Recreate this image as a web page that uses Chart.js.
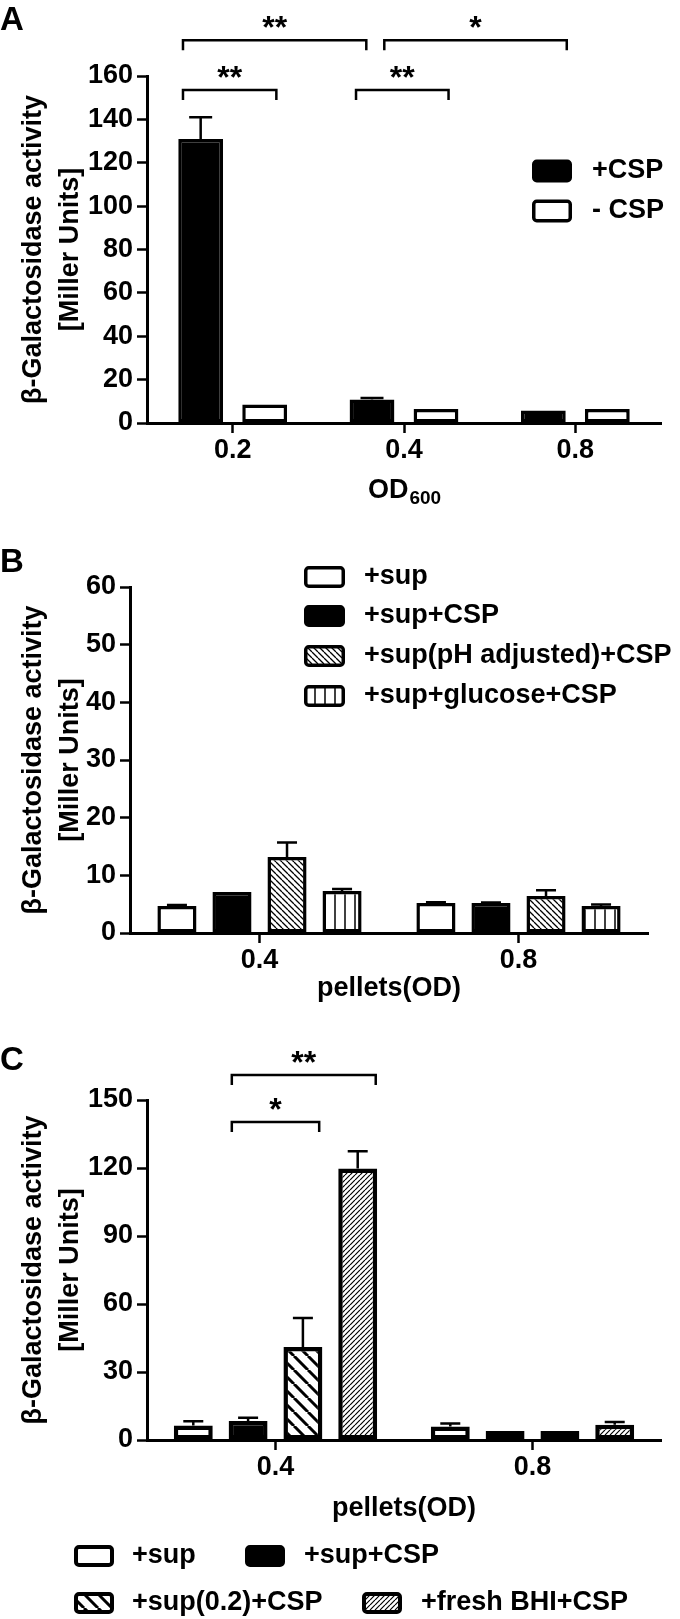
<!DOCTYPE html>
<html>
<head>
<meta charset="utf-8">
<script src="https://cdn.jsdelivr.net/npm/chart.js@4/dist/chart.umd.min.js"></script>
<style>
body { margin: 0; background: #fff; width: 680px; height: 1619px; position: relative; overflow: hidden; }
canvas { position: absolute; left: 0; }
</style>
</head>
<body>
<canvas id="chartA" width="680" height="520" style="top:0px"></canvas>
<canvas id="chartB" width="680" height="500" style="top:520px"></canvas>
<canvas id="chartC" width="680" height="599" style="top:1020px"></canvas>
<script>
// panel A
var catsA = ['0.2', '0.4', '0.8'];
var plusCspA = [131, 10.8, 5.8];
var plusCspErrA = [10, 0.7, 0];
var minusCspA = [8.5, 6.5, 6.5];
var minusCspErrA = [0, 0, 0];
var ticksA = [0, 20, 40, 60, 80, 100, 120, 140, 160];
// brackets: from/to in category units, y in Miller units
var sigA = [
    {from: -0.29, to: 0.78, y: 176.5, text: '**'},
    {from: 0.885, to: 1.95, y: 176.5, text: '*'},
    {from: -0.29, to: 0.255, y: 153.5, text: '**'},
    {from: 0.72, to: 1.26, y: 153.5, text: '**'}
];

// panel B
var catsB = ['0.4', '0.8'];
var supB = [4.7, 5.2];
var supErrB = [0.15, 0.15];
var supCspB = [7.1, 5.2];
var supCspErrB = [0, 0.1];
var supPhB = [13.2, 6.4];
var supPhErrB = [2.5, 1.0];
var supGluB = [7.3, 4.7];
var supGluErrB = [0.35, 0.25];
var ticksB = [0, 10, 20, 30, 40, 50, 60];

// panel C
var catsC = ['0.4', '0.8'];
var supC = [6.4, 6.0];
var supErrC = [1.9, 1.3];
var supCspC = [8.4, 4.0];
var supCspErrC = [1.4, 0];
var sup02C = [41, 4.0];
var sup02ErrC = [12.8, 0];
var freshC = [119.8, 6.7];
var freshErrC = [7.6, 1.2];
var ticksC = [0, 30, 60, 90, 120, 150];
var sigC = [
    {from: -0.17, to: 0.39, y: 161, text: '**'},
    {from: -0.17, to: 0.17, y: 140.3, text: '*'}
];

var FONT = "'Liberation Sans', Arial, sans-serif";
Chart.defaults.font.family = FONT;
Chart.defaults.font.size = 27;
Chart.defaults.font.weight = 'bold';
Chart.defaults.color = '#000';

function hatch(kind, gap, lw) {
    var c = document.createElement('canvas');
    c.width = gap; c.height = gap;
    var g = c.getContext('2d');
    g.fillStyle = '#fff';
    g.fillRect(0, 0, gap, gap);
    g.strokeStyle = '#000';
    g.lineWidth = lw;
    g.beginPath();
    if (kind === 'v') {
        g.moveTo(gap / 2, 0); g.lineTo(gap / 2, gap);
    } else {
        for (var k = -gap; k <= gap; k += gap) {
            if (kind === 'back') { g.moveTo(k, 0); g.lineTo(k + gap, gap); }
            else { g.moveTo(k, gap); g.lineTo(k + gap, 0); }
        }
    }
    g.stroke();
    return g.createPattern(c, 'repeat');
}

var errorBars = {
    id: 'errorBars',
    afterDatasetsDraw: function(chart, args, opts) {
        var ctx = chart.ctx, y = chart.scales.y;
        chart.data.datasets.forEach(function(ds, di) {
            if (!ds.errors) return;
            chart.getDatasetMeta(di).data.forEach(function(bar, i) {
                var e = ds.errors[i];
                if (!e) return;
                var top = y.getPixelForValue(ds.data[i] + e);
                ctx.save();
                ctx.strokeStyle = '#000';
                ctx.lineWidth = opts.width;
                ctx.beginPath();
                ctx.moveTo(bar.x, bar.y);
                ctx.lineTo(bar.x, top);
                ctx.moveTo(bar.x - opts.cap / 2, top);
                ctx.lineTo(bar.x + opts.cap / 2, top);
                ctx.stroke();
                ctx.restore();
            });
        });
    }
};

function sigPlugin(list) {
    return {
        id: 'sig',
        afterDraw: function(chart) {
            var ctx = chart.ctx, xs = chart.scales.x, ys = chart.scales.y;
            var x0 = xs.getPixelForValue(0), step = xs.getPixelForValue(1) - x0;
            ctx.save();
            ctx.strokeStyle = '#000';
            ctx.lineWidth = 2.5;
            ctx.fillStyle = '#000';
            ctx.font = 'bold 32px ' + FONT;
            ctx.textAlign = 'center';
            ctx.textBaseline = 'alphabetic';
            list.forEach(function(b) {
                var xa = x0 + b.from * step, xb = x0 + b.to * step, yy = ys.getPixelForValue(b.y);
                ctx.beginPath();
                ctx.moveTo(xa, yy + 10); ctx.lineTo(xa, yy); ctx.lineTo(xb, yy); ctx.lineTo(xb, yy + 10);
                ctx.stroke();
                ctx.fillText(b.text, (xa + xb) / 2, yy - 2);
            });
            ctx.restore();
        }
    };
}

function legendPlugin(items, box) {
    return {
        id: 'boxLegend',
        afterDraw: function(chart) {
            var ctx = chart.ctx;
            items.forEach(function(it) {
                var ds = chart.data.datasets[it.ds];
                ctx.save();
                ctx.beginPath();
                ctx.roundRect(it.x + box.lw / 2, it.y - box.h / 2 + box.lw / 2, box.w - box.lw, box.h - box.lw, 3);
                ctx.fillStyle = ds.backgroundColor;
                ctx.fill();
                ctx.lineWidth = box.lw;
                ctx.strokeStyle = '#000';
                ctx.stroke();
                ctx.fillStyle = '#000';
                ctx.font = 'bold 27px ' + FONT;
                ctx.textAlign = 'left';
                ctx.textBaseline = 'middle';
                ctx.fillText(ds.label, it.tx, it.y);
                ctx.restore();
            });
        }
    };
}

function letterPlugin(letter, baseline) {
    return {
        id: 'letter',
        afterDraw: function(chart) {
            var ctx = chart.ctx;
            ctx.save();
            ctx.fillStyle = '#000';
            ctx.font = 'bold 33px ' + FONT;
            ctx.textAlign = 'left';
            ctx.textBaseline = 'alphabetic';
            ctx.fillText(letter, 0, baseline);
            ctx.restore();
        }
    };
}

// x-axis title with a real subscript (OD600)
function subTitlePlugin(main, sub, baseline) {
    return {
        id: 'subTitle',
        afterDraw: function(chart) {
            var ctx = chart.ctx, xs = chart.scales.x;
            ctx.save();
            ctx.fillStyle = '#000';
            ctx.textBaseline = 'alphabetic';
            ctx.textAlign = 'left';
            ctx.font = 'bold 27px ' + FONT;
            var w1 = ctx.measureText(main).width;
            ctx.font = 'bold 19px ' + FONT;
            var w2 = ctx.measureText(sub).width;
            var x = (xs.left + xs.right) / 2 - (w1 + w2) / 2;
            ctx.font = 'bold 27px ' + FONT;
            ctx.fillText(main, x, baseline);
            ctx.font = 'bold 19px ' + FONT;
            ctx.fillText(sub, x + w1 + 1, baseline + 6);
            ctx.restore();
        }
    };
}

function makeOptions(cfg) {
    var tickGrid = {display: true, offset: false, drawOnChartArea: false, drawTicks: true,
        tickLength: 10, tickWidth: 2.5, tickColor: '#000', color: '#000'};
    return {
        responsive: false,
        animation: false,
        events: [],
        layout: {padding: {left: 0, top: cfg.top, right: cfg.right, bottom: 0}},
        plugins: {
            legend: {display: false},
            tooltip: {enabled: false},
            errorBars: {width: 2.5, cap: cfg.cap}
        },
        scales: {
            x: {
                offset: true,
                grid: tickGrid,
                border: {display: true, color: '#000', width: 3},
                ticks: {color: '#000', padding: 1, maxRotation: 0, font: {size: 27, weight: 'bold', lineHeight: 1.2}},
                title: {display: !!cfg.xTitle, text: cfg.xTitle || '', color: '#000',
                    font: {size: 27, weight: 'bold', lineHeight: 1.2},
                    padding: {top: 0, bottom: cfg.xTitlePad || 0}},
                afterFit: function(s) { s.height = cfg.xHeight; }
            },
            y: {
                min: 0,
                max: cfg.ticks[cfg.ticks.length - 1],
                afterBuildTicks: function(s) { s.ticks = cfg.ticks.map(function(v) { return {value: v}; }); },
                grid: tickGrid,
                border: {display: true, color: '#000', width: 3},
                ticks: {color: '#000', padding: 4, font: {size: 27, weight: 'bold'}},
                title: {display: true, text: ['\u03b2-Galactosidase activity', '[Miller Units]'], color: '#000',
                    font: {size: 27, weight: 'bold', lineHeight: 1.37},
                    padding: {top: 15.5, bottom: 0}},
                afterFit: function(s) { s.width = cfg.yWidth; }
            }
        }
    };
}

function barSet(label, data, errors, fill, cp, bp, bw) {
    return {
        label: label, data: data, errors: errors,
        backgroundColor: fill, borderColor: '#000', borderWidth: bw,
        borderSkipped: false, borderRadius: 0,
        categoryPercentage: cp, barPercentage: bp
    };
}

new Chart(document.getElementById('chartA').getContext('2d'), {
    type: 'bar',
    data: {
        labels: catsA,
        datasets: [
            barSet('+CSP', plusCspA, plusCspErrA, '#000', 0.747, 0.70, 3.5),
            barSet('- CSP', minusCspA, minusCspErrA, '#fff', 0.747, 0.70, 3.5)
        ]
    },
    options: makeOptions({top: 76, right: 19, xHeight: 97, yWidth: 147, cap: 23, ticks: ticksA}),
    plugins: [errorBars, sigPlugin(sigA), letterPlugin('A', 30), subTitlePlugin('OD', '600', 498),
        legendPlugin([{ds: 0, x: 532, y: 171, tx: 592}, {ds: 1, x: 532, y: 211, tx: 592}], {w: 40, h: 23, lw: 3.5})]
});

new Chart(document.getElementById('chartB').getContext('2d'), {
    type: 'bar',
    data: {
        labels: catsB,
        datasets: [
            barSet('+sup', supB, supErrB, '#fff', 0.85, 0.71, 3.5),
            barSet('+sup+CSP', supCspB, supCspErrB, '#000', 0.85, 0.71, 3.5),
            barSet('+sup(pH adjusted)+CSP', supPhB, supPhErrB, hatch('back', 6, 1.3), 0.85, 0.71, 3.5),
            barSet('+sup+glucose+CSP', supGluB, supGluErrB, hatch('v', 10, 1.5), 0.85, 0.71, 3.5)
        ]
    },
    options: makeOptions({top: 67, right: 32, xHeight: 87, yWidth: 130, cap: 20,
        ticks: ticksB, xTitle: 'pellets(OD)', xTitlePad: 14.8}),
    plugins: [errorBars, letterPlugin('B', 52),
        legendPlugin([
            {ds: 0, x: 304, y: 57, tx: 364},
            {ds: 1, x: 304, y: 96, tx: 364},
            {ds: 2, x: 304, y: 136, tx: 364},
            {ds: 3, x: 304, y: 176, tx: 364}
        ], {w: 41, h: 22, lw: 3.5})]
});

new Chart(document.getElementById('chartC').getContext('2d'), {
    type: 'bar',
    data: {
        labels: catsC,
        datasets: [
            barSet('+sup', supC, supErrC, '#fff', 0.853, 0.71, 4.5),
            barSet('+sup+CSP', supCspC, supCspErrC, '#000', 0.853, 0.71, 4.5),
            barSet('+sup(0.2)+CSP', sup02C, sup02ErrC, hatch('back', 14, 3), 0.853, 0.71, 4.5),
            barSet('+fresh BHI+CSP', freshC, freshErrC, hatch('fwd', 5, 1.2), 0.853, 0.71, 4.5)
        ]
    },
    options: makeOptions({top: 80, right: 19, xHeight: 179, yWidth: 147, cap: 20,
        ticks: ticksC, xTitle: 'pellets(OD)', xTitlePad: 93.8}),
    plugins: [errorBars, sigPlugin(sigC), letterPlugin('C', 50),
        legendPlugin([
            {ds: 0, x: 74, y: 536, tx: 132},
            {ds: 1, x: 245, y: 536, tx: 304},
            {ds: 2, x: 74, y: 583, tx: 132},
            {ds: 3, x: 362, y: 583, tx: 421}
        ], {w: 40, h: 22, lw: 4})]
});
</script>
</body>
</html>
